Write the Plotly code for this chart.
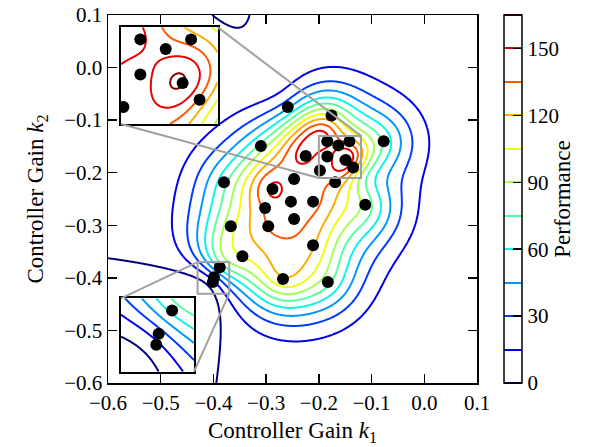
import numpy as np
import plotly.graph_objects as go

gain_k1 = [-0.259, -0.176, -0.310, -0.184, -0.163, -0.142, -0.077, -0.225, -0.184, -0.149,
           -0.135, -0.198, -0.247, -0.288, -0.169, -0.380, -0.253, -0.211, -0.302, -0.247,
           -0.296, -0.367, -0.211, -0.345, -0.388, -0.399, -0.401, -0.268, -0.183, -0.112]
gain_k2 = [-0.075, -0.091, -0.149, -0.140, -0.148, -0.140, -0.140, -0.168, -0.169, -0.176,
           -0.190, -0.196, -0.212, -0.231, -0.218, -0.218, -0.255, -0.255, -0.267, -0.288,
           -0.302, -0.302, -0.338, -0.359, -0.380, -0.399, -0.408, -0.402, -0.408, -0.261]
performance = [42, 105, 80, 155, 142, 128, 72, 156, 142, 170,
               130, 140, 142, 153, 133, 70, 142, 140, 138, 140,
               136, 100, 122, 105, 65, 22, 12, 118, 80, 85]

axis_ticks = [-0.6, -0.5, -0.4, -0.3, -0.2, -0.1, 0.0, 0.1]
cbar_ticks = [0, 30, 60, 90, 120, 150]
level_start, level_end, level_step = 0, 165, 15

inset1_x, inset1_y = [-0.20, -0.12], [-0.21, -0.13]
inset2_x, inset2_y = [-0.43, -0.37], [-0.43, -0.37]
inset1_dom_x, inset1_dom_y = [0.0352, 0.2973], [0.7038, 0.9666]
inset2_dom_x, inset2_dom_y = [0.0352, 0.2331], [0.0307, 0.2302]

# ---- Gaussian-process posterior mean (Matern 5/2) built from the samples ----
ell, noise, prior_mean = 0.06, 0.005, 0.0
pts = np.column_stack([gain_k1, gain_k2])


def matern52(r):
    s = np.sqrt(5.0) * r / ell
    return (1 + s + s * s / 3.0) * np.exp(-s)


Dm = np.sqrt(((pts[:, None, :] - pts[None, :, :]) ** 2).sum(-1))
weights = np.linalg.solve(matern52(Dm) + noise * np.eye(len(pts)),
                          np.array(performance, float) - prior_mean)


def surface(xs, ys):
    X, Y = np.meshgrid(xs, ys)
    G = np.stack([X.ravel(), Y.ravel()], 1)
    d = np.sqrt(((G[:, None, :] - pts[None, :, :]) ** 2).sum(-1))
    return prior_mean + (matern52(d) @ weights).reshape(X.shape)


# ---- jet colormap ----
def jet(v):
    r = np.interp(v, [0, 0.35, 0.66, 0.89, 1], [0, 0, 1, 1, 0.5])
    g = np.interp(v, [0, 0.125, 0.375, 0.64, 0.91, 1], [0, 0, 1, 1, 0, 0])
    b = np.interp(v, [0, 0.11, 0.34, 0.65, 1], [0.5, 1, 1, 0, 0])
    return "rgb(%d,%d,%d)" % (round(r * 255), round(g * 255), round(b * 255))


jet_scale = [[float(v), jet(v)] for v in np.linspace(0, 1, 101)]
FONT = "Liberation Serif"

fig = go.Figure()


def add_contour(xs, ys, xa, ya, show):
    fig.add_trace(go.Contour(
        x=xs, y=ys, z=surface(xs, ys), xaxis=xa, yaxis=ya,
        contours=dict(start=level_start, end=level_end, size=level_step, coloring="lines"),
        line=dict(width=2, smoothing=0.8), colorscale=jet_scale, showscale=show,
        hoverinfo="skip",
        colorbar=dict(x=1.0732, xanchor="left", xpad=0, y=0.5, yanchor="middle", ypad=0,
                      len=1, lenmode="fraction",
                      thickness=18, outlinewidth=1.5, outlinecolor="black",
                      tickmode="array", tickvals=cbar_ticks, ticks="inside", ticklen=9,
                      tickwidth=1.5, tickcolor="black",
                      tickfont=dict(family=FONT, size=21, color="black"),
                      title=dict(text="Performance", side="right",
                                 font=dict(family=FONT, size=23, color="black"))),
    ))
    fig.add_trace(go.Scatter(x=gain_k1, y=gain_k2, xaxis=xa, yaxis=ya, mode="markers",
                             marker=dict(color="black", size=12), hoverinfo="skip",
                             showlegend=False))


add_contour(np.linspace(-0.6, 0.1, 281), np.linspace(-0.6, 0.1, 281), "x", "y", True)
add_contour(np.linspace(*inset1_x, 161), np.linspace(*inset1_y, 161), "x2", "y2", False)
add_contour(np.linspace(*inset2_x, 161), np.linspace(*inset2_y, 161), "x3", "y3", False)

main_ax = dict(range=[-0.6, 0.1], tickmode="array", tickvals=axis_ticks, tickformat=".1f",
               ticks="inside", ticklen=9, tickwidth=1.5, tickcolor="black", showline=True,
               linecolor="black", linewidth=1.5, mirror="allticks", showgrid=False,
               zeroline=False, automargin=False,
               tickfont=dict(family=FONT, size=21, color="black"))
inset_ax = dict(showticklabels=False, ticks="", showline=True, linecolor="black", linewidth=2,
                mirror=True, showgrid=False, zeroline=False, automargin=False)

fig.update_layout(
    width=609, height=447, margin=dict(l=108, r=132, t=15, b=64, autoexpand=False),
    paper_bgcolor="white", plot_bgcolor="white", showlegend=False,
    xaxis=dict(main_ax, domain=[0, 1], anchor="y",
               title=dict(text="Controller Gain <i>k</i><sub>1</sub>", standoff=8,
                          font=dict(family=FONT, size=23, color="black"))),
    yaxis=dict(main_ax, domain=[0, 1], anchor="x",
               title=dict(text="Controller Gain <i>k</i><sub>2</sub>", standoff=14,
                          font=dict(family=FONT, size=23, color="black"))),
    xaxis2=dict(inset_ax, domain=inset1_dom_x, range=inset1_x, anchor="y2"),
    yaxis2=dict(inset_ax, domain=inset1_dom_y, range=inset1_y, anchor="x2"),
    xaxis3=dict(inset_ax, domain=inset2_dom_x, range=inset2_x, anchor="y3"),
    yaxis3=dict(inset_ax, domain=inset2_dom_y, range=inset2_y, anchor="x3"),
)


def to_paper(x, y):
    return (x + 0.6) / 0.7, (y + 0.6) / 0.7


gray = dict(color="rgb(160,160,160)", width=2)
for ix, iy in [(inset1_x, inset1_y), (inset2_x, inset2_y)]:
    fig.add_shape(type="rect", xref="x", yref="y", x0=ix[0], x1=ix[1], y0=iy[0], y1=iy[1],
                  line=gray, layer="above")
conn = [
    ((inset1_dom_x[1], inset1_dom_y[1]), to_paper(inset1_x[1], inset1_y[1])),
    ((inset1_dom_x[0], inset1_dom_y[0]), to_paper(inset1_x[0], inset1_y[0])),
    ((inset2_dom_x[0], inset2_dom_y[1]), to_paper(inset2_x[0], inset2_y[1])),
    ((inset2_dom_x[1], inset2_dom_y[0]), to_paper(inset2_x[1], inset2_y[0])),
]
for (a, b) in conn:
    fig.add_shape(type="line", xref="paper", yref="paper", x0=a[0], y0=a[1], x1=b[0], y1=b[1],
                  line=gray, layer="above")

fig.write_html("out.html", config={"displayModeBar": False, "staticPlot": True})
# remove the browser's default page margin so the figure sits at the window origin
with open("out.html", encoding="utf-8") as fh:
    html = fh.read()
html = html.replace("<head>", "<head><style>html,body{margin:0;padding:0;overflow:hidden;}</style>", 1)
with open("out.html", "w", encoding="utf-8") as fh:
    fh.write(html)
